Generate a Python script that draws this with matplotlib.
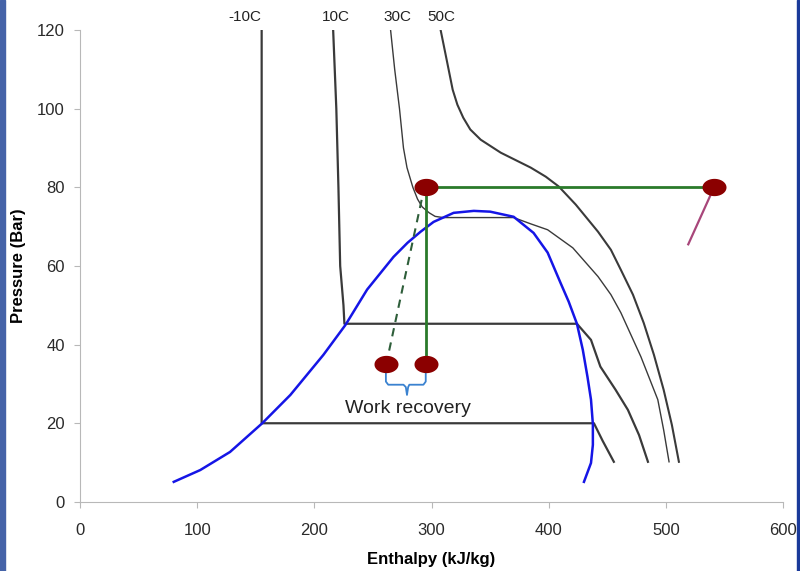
import numpy as np
import matplotlib
matplotlib.use("Agg")
import matplotlib.pyplot as plt
from matplotlib.patches import Rectangle

plt.rcParams['font.family'] = ['Liberation Sans', 'DejaVu Sans']

# isotherms (enthalpy kJ/kg, pressure bar)
iso_m10_h = [155, 155, 438.5, 446, 455.5]
iso_m10_p = [120, 20, 20, 15.5, 10.2]

iso_10_h = [216, 218.7, 220.5, 222, 224.8, 225.6, 424, 436, 444, 457, 467.5, 477, 484.6]
iso_10_p = [120, 100, 80, 60, 50, 45.3, 45.3, 41.2, 34.4, 28.5, 23.4, 17, 10.2]

iso_30_h = [265, 268.5, 272.6, 276, 279, 284, 288, 292, 298, 303, 310, 370, 384.6, 399,
            420.5, 442, 453, 461.5, 478.6, 493, 498, 502.6]
iso_30_p = [120, 110, 100, 90, 85, 80, 77, 75, 73.5, 72.6, 72.3, 72.3, 70.7, 69.2,
            64.6, 57.3, 52.7, 48.1, 36.9, 26, 18.3, 10.2]

iso_50_h = [307.7, 312.8, 318, 322, 327, 333, 341.9, 359, 384.6, 397.4, 408.5, 423, 442,
            453, 461.5, 471.8, 481, 489.7, 498, 505, 511]
iso_50_p = [120, 112.5, 104.8, 101, 97.7, 94.7, 92.1, 88.8, 85, 82.7, 80.2, 75.6, 68.7,
            64.1, 59, 52.7, 45.5, 37.4, 28.5, 19.6, 10.2]

iso_labels = ['-10C', '10C', '30C', '50C']
iso_label_h = [141, 218, 271, 308.6]

# saturation dome
dome_h = [80, 102.6, 128, 155.5, 179.5, 207.7, 226.5, 245, 267.5, 279.5, 290.6, 301.7,
          318.8, 336, 350, 370, 387, 399, 410, 417, 424, 429, 433, 436, 437.6, 437.6,
          436, 430]
dome_p = [5.1, 8.1, 12.7, 20, 27.2, 37.4, 45, 54, 62.3, 65.9, 68.7, 71.2,
          73.5, 74, 73.8, 72.5, 68.4, 63.4, 55.7, 50.9, 45.3, 38.7, 31.8, 26, 19.8, 14.5,
          9.9, 5.1]

# cycle points
cycle_h = [295, 541]
cycle_p = [80, 80]
expand_h = [295, 295]
expand_p = [80, 35]
dashed_h = [291.5, 263]
dashed_p = [76.8, 37.4]
dot_h = [295, 541, 261, 295]
dot_p = [80, 80, 35, 35]
purple_h = [541, 519]
purple_p = [80, 65.5]

# brace under the two low points
brace_h = [261, 261, 263, 276, 278, 279, 280, 281, 293, 295, 295]
brace_p = [33.1, 30.6, 29.8, 29.8, 29.2, 27.2, 29.2, 29.8, 29.8, 30.6, 33.1]

fig = plt.figure(figsize=(8, 5.71), dpi=100)
ax = fig.add_axes([0.1, 0.121, 0.879, 0.8265])

ax.plot(iso_m10_h, iso_m10_p, color='#3a3a3a', lw=1.6)
ax.plot(iso_10_h, iso_10_p, color='#3a3a3a', lw=1.6)
ax.plot(iso_30_h, iso_30_p, color='#3a3a3a', lw=1.0)
ax.plot(iso_50_h, iso_50_p, color='#3a3a3a', lw=1.5)
ax.plot(dome_h, dome_p, color='#1515e6', lw=1.8)

ax.plot(cycle_h, cycle_p, color='#2a7a2a', lw=2)
ax.plot(expand_h, expand_p, color='#2a7a2a', lw=2)
ax.plot(dashed_h, dashed_p, color='#2e5e3a', lw=1.5, ls=(0, (4, 3)))
ax.plot(purple_h, purple_p, color='#a8467a', lw=1.6)
ax.plot(brace_h, brace_p, color='#3a82d0', lw=1.3)

t = np.linspace(0, 2 * np.pi, 40)
ell = list(zip(np.cos(t), 0.72 * np.sin(t)))
ax.scatter(dot_h, dot_p, marker=ell, s=300, color='#8b0000', zorder=5, linewidths=0)

ax.text(280, 23.8, 'Work recovery', ha='center', va='center', fontsize=14, color='#222222')

for lab, h in zip(iso_labels, iso_label_h):
    ax.text(h, 123.3, lab, ha='center', va='center', fontsize=11, color='#222222', clip_on=False)

ax.set_xlim(0, 600)
ax.set_ylim(0, 120)
ax.set_xticks(range(0, 601, 100))
ax.set_yticks(range(0, 121, 20))
for s in ['top', 'right']:
    ax.spines[s].set_visible(False)
for s in ['left', 'bottom']:
    ax.spines[s].set_color('#b8b8b8')
ax.tick_params(colors='#b8b8b8', labelcolor='#2a2a2a', labelsize=12, length=4)
ax.tick_params(axis='x', pad=11)
ax.tick_params(axis='y', pad=7)
ax.set_xlabel('Enthalpy (kJ/kg)', fontsize=12, fontweight='bold', labelpad=10)
ax.set_ylabel('Pressure (Bar)', fontsize=12, fontweight='bold')
ax.yaxis.set_label_coords(-0.077, 0.5)

# slide frame edges
fig.add_artist(Rectangle((0, 0), 0.006, 1, transform=fig.transFigure, color='#4563a8'))
fig.add_artist(Rectangle((0.996, 0), 0.003, 1, transform=fig.transFigure, color='#1a3a9a'))

fig.savefig('out.png', dpi=100)
